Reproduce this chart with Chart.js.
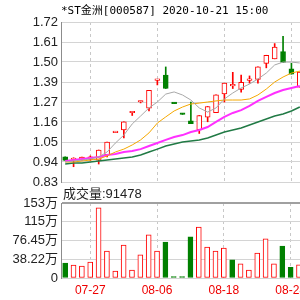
<!DOCTYPE html>
<html><head><meta charset="utf-8">
<script src="https://cdn.jsdelivr.net/npm/chart.js@4.4.1/dist/chart.umd.min.js"></script>
<style>
html,body{margin:0;padding:0;background:#fff;overflow:hidden;width:300px;height:300px}
canvas{position:absolute;left:0;top:0}
</style></head>
<body>
<canvas id="price" width="304" height="300"></canvas>
<canvas id="vol" width="304" height="300"></canvas>
<script>
const titleText = '*ST金洲[000587] 2020-10-21 15:00';
const volCaption = '成交量:91478';
const dates = ['07-22','07-23','07-24','07-27','07-28','07-29','07-30','07-31','08-03','08-04','08-05','08-06','08-07','08-10','08-11','08-12','08-13','08-14','08-17','08-18','08-19','08-20','08-21','08-24','08-25','08-26','08-27','08-28','08-31'];
const xLabelDates = ['07-27','08-06','08-18','08-28'];
const openP  = [0.97,0.955,0.952,0.955,0.952,0.98,1.105,1.12,1.215,1.275,1.24,1.395,1.425,1.272,1.212,1.17,1.12,1.19,1.215,1.32,1.365,1.345,1.395,1.40,1.49,1.515,1.555,1.46,1.358];
const closeP = [0.95,0.96,0.969,0.97,1.008,1.052,1.111,1.165,1.22,1.28,1.34,1.40,1.35,1.266,1.206,1.155,1.20,1.25,1.315,1.38,1.37,1.385,1.40,1.47,1.535,1.58,1.495,1.43,1.442];
const highP  = [0.97,0.965,0.969,0.975,1.008,1.052,1.111,1.165,1.22,1.28,1.34,1.40,1.47,1.272,1.212,1.275,1.20,1.25,1.315,1.38,1.44,1.425,1.42,1.47,1.535,1.60,1.64,1.49,1.442];
const lowP   = [0.95,0.915,0.952,0.95,0.93,0.97,1.105,1.075,1.20,1.27,1.225,1.37,1.35,1.266,1.206,1.155,1.10,1.165,1.215,1.275,1.35,1.33,1.38,1.38,1.465,1.515,1.495,1.43,1.358];
const ma5  = [0.941,0.947,0.952,0.958,0.969,0.997,1.047,1.091,1.153,1.197,1.242,1.275,1.319,1.331,1.314,1.286,1.242,1.219,1.242,1.292,1.325,1.353,1.375,1.403,1.436,1.481,1.497,1.497,1.492];
const ma10 = [0.941,0.941,0.947,0.952,0.958,0.975,0.997,1.013,1.036,1.064,1.103,1.158,1.192,1.225,1.247,1.264,1.269,1.275,1.281,1.286,1.286,1.286,1.292,1.314,1.347,1.386,1.414,1.436,1.447];
const ma20 = [0.947,0.952,0.958,0.963,0.969,0.980,0.986,0.997,1.002,1.013,1.030,1.047,1.064,1.080,1.091,1.108,1.119,1.136,1.164,1.192,1.214,1.230,1.253,1.281,1.303,1.325,1.342,1.353,1.364];
const ma30 = [0.930,0.936,0.936,0.941,0.947,0.952,0.958,0.963,0.969,0.980,0.997,1.013,1.030,1.041,1.052,1.058,1.064,1.075,1.091,1.108,1.119,1.130,1.147,1.164,1.180,1.197,1.208,1.225,1.247];
const volume = [30.6,26.5,24.5,32.6,143,55,14,67,16,47,88,55,73,3,3,84,104,63,55,61,37,29,16,51,80,29,65,22,27];
const volDir = ['down','up','up','up','up','up','up','up','up','up','up','up','down','down','down','down','up','up','up','up','down','up','up','up','up','up','down','down','up'];
const priceTicks = [0.83,0.94125,1.0525,1.16375,1.275,1.38625,1.4975,1.60875,1.72];
const priceTickLabels = ['0.83','0.94','1.05','1.16','1.27','1.39','1.50','1.61','1.72'];
const volTicks = [0,38.225,76.45,114.675,152.9];
const volTickLabels = ['0','38.22万','76.45万','115万','153万'];

const RED='#ff0000', GREEN='#008000';
const isUp = i => closeP[i] >= openP[i];
const tickFont = {family:"'Liberation Sans','Noto Sans CJK SC',sans-serif", size:13};
const xGridColor = c => (c.tick && xLabelDates.includes(dates[c.index])) ? '#c8c8c8' : 'rgba(0,0,0,0)';

const titlePlugin = {
  id:'titleText',
  afterDraw(chart){
    const ctx = chart.ctx;
    ctx.save();
    ctx.font = "11px 'DejaVu Sans Mono','Noto Sans CJK SC',monospace";
    ctx.fillStyle = '#000';
    ctx.textBaseline = 'alphabetic';
    ctx.fillText(titleText, 61, 14);
    ctx.restore();
  }
};
const captionPlugin = {
  id:'volCaption',
  afterDraw(chart){
    const ctx = chart.ctx;
    ctx.save();
    ctx.font = "13px 'Liberation Sans','Noto Sans CJK SC',sans-serif";
    ctx.fillStyle = '#222';
    ctx.textBaseline = 'alphabetic';
    ctx.fillText(volCaption, 63, 198);
    ctx.restore();
  }
};

new Chart(document.getElementById('price'), {
  type:'bar',
  data:{
    labels:dates,
    datasets:[
      {type:'line', data:ma5, borderColor:'#a8a8a8', borderWidth:1, pointRadius:0, tension:0, order:0},
      {type:'line', data:ma10, borderColor:'#f5a800', borderWidth:1, pointRadius:0, tension:0, order:0},
      {type:'line', data:ma20, borderColor:'#ff30ff', borderWidth:2, pointRadius:0, tension:0, order:0},
      {type:'line', data:ma30, borderColor:'#217a45', borderWidth:1.5, pointRadius:0, tension:0, order:0},
      {data:dates.map((d,i)=>[openP[i],closeP[i]]), grouped:false, barThickness:5, minBarLength:1.5,
        borderWidth:1, borderSkipped:false,
        backgroundColor:dates.map((d,i)=>isUp(i)?'#fff':GREEN),
        borderColor:dates.map((d,i)=>isUp(i)?RED:GREEN), order:1},
      {data:dates.map((d,i)=>[lowP[i],highP[i]]), grouped:false, barThickness:1,
        borderWidth:0, backgroundColor:dates.map((d,i)=>isUp(i)?RED:GREEN), order:2}
    ]
  },
  options:{
    responsive:false, animation:false,
    layout:{padding:{top:22,bottom:118,left:0,right:0}},
    plugins:{legend:{display:false}, tooltip:{enabled:false}},
    scales:{
      x:{offset:true, grid:{offset:false, color:xGridColor, drawTicks:false},
         border:{display:false, dash:[3,3]},
         ticks:{display:false, autoSkip:false},
         afterFit(s){s.height=0;}},
      y:{min:0.83, max:1.72,
         afterBuildTicks(s){s.ticks = priceTicks.map(v=>({value:v}));},
         afterFit(s){s.width=61;},
         grid:{color:'#d4d4d4', drawTicks:false},
         border:{color:'#8c8c8c'},
         ticks:{padding:3, color:'#222', font:tickFont, callback:(v,i)=>priceTickLabels[i]}}
    }
  },
  plugins:[titlePlugin]
});

new Chart(document.getElementById('vol'), {
  type:'bar',
  data:{
    labels:dates,
    datasets:[
      {data:volume, barThickness:5, borderWidth:1, borderSkipped:false,
       backgroundColor:volDir.map(d=>d==='up'?'#fff':GREEN),
       borderColor:volDir.map(d=>d==='up'?RED:GREEN)}
    ]
  },
  options:{
    responsive:false, animation:false,
    layout:{padding:{top:203,bottom:0,left:0,right:0}},
    plugins:{legend:{display:false}, tooltip:{enabled:false}},
    scales:{
      x:{offset:true, grid:{offset:false, color:xGridColor, drawTicks:false},
         border:{display:false, dash:[3,3]},
         ticks:{autoSkip:false, maxRotation:0, padding:5, color:'#ee0000',
                font:{family:"'Liberation Sans',sans-serif", size:12},
                callback:(v,i)=>xLabelDates.includes(dates[i])?dates[i]:''},
         afterFit(s){s.height=22;}},
      y:{min:0, max:152.9,
         afterBuildTicks(s){s.ticks = volTicks.map(v=>({value:v}));},
         afterFit(s){s.width=61;},
         grid:{color:c=>c.index===volTicks.length-1?'#a0a0a0':'#d4d4d4',
               lineWidth:c=>c.index===volTicks.length-1?2:1, drawTicks:false},
         border:{color:'#8c8c8c'},
         ticks:{padding:3, color:'#222', font:tickFont, callback:(v,i)=>volTickLabels[i]}}
    }
  },
  plugins:[captionPlugin]
});
</script>
</body></html>
